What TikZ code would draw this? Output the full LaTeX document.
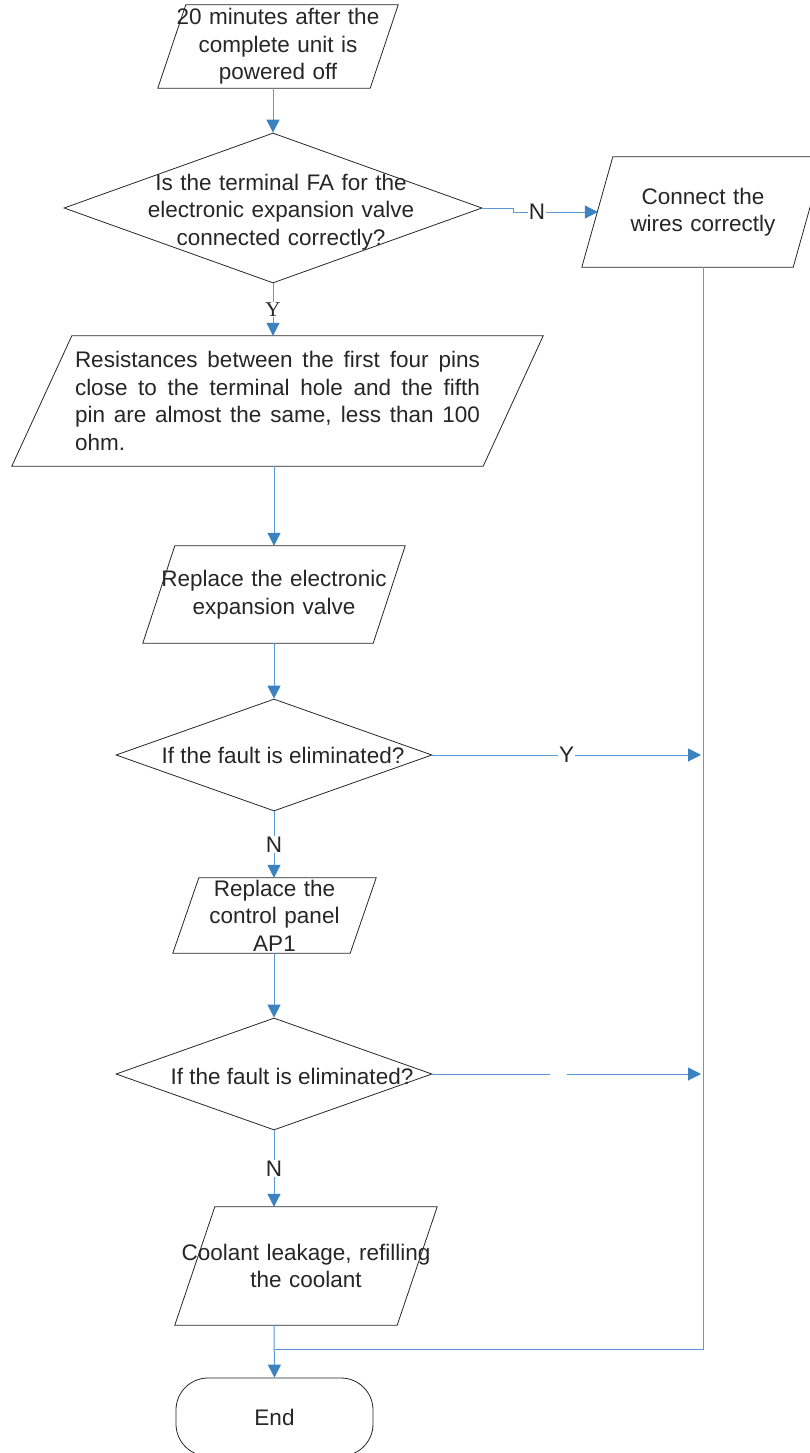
\documentclass[tikz,border=0pt]{standalone}
\usepackage{fontspec}
\setmainfont{Liberation Sans}
\newfontfamily\serifletter{Liberation Serif}
\usetikzlibrary{shapes.geometric,arrows.meta}
\definecolor{linkblue}{RGB}{91,155,213}
\definecolor{tipblue}{RGB}{58,130,192}
\definecolor{inkgray}{RGB}{38,38,38}

\begin{document}
\begin{tikzpicture}[x=1pt, y=-1pt,
    every node/.style={font=\fontsize{22.5}{27.5}\selectfont, text=inkgray, align=center},
    box/.style={inner sep=0pt},
    decision/.style={diamond, draw=inkgray, line width=0.8pt, inner sep=0pt,
        minimum width=316, minimum height=112},
    outline/.style={draw=inkgray, line width=0.8pt},
    link/.style={draw=linkblue, line width=1pt},
    flow/.style={link, -{Triangle[length=13pt, width=13pt, color=tipblue]}},
    lbl/.style={fill=white, inner sep=1pt}
]
\useasboundingbox (0,0) rectangle (810,1453);

% shapes of the main column
\node[box, minimum width=240, minimum height=83, text width=215] (start) at (278,46.5)
    {20 minutes after the\\complete unit is\\powered off};
\node[decision, minimum width=418, minimum height=150] (q1) at (273,208) {};
\node[box, text width=290] (q1txt) at (281,212)
    {Is the terminal FA for the\\electronic expansion valve\\connected correctly?};
\node[box, minimum width=242, minimum height=110, text width=160] (wires) at (703,212)
    {Connect the\\wires correctly};
\node[box, minimum width=531, minimum height=130, text width=405, align=justify] (p2) at (277.5,401)
    {Resistances between the first four pins\linebreak close to the terminal hole and the fifth\linebreak pin are almost the same, less than 100\linebreak ohm.};
\node[box, minimum width=262, minimum height=97, text width=240] (p3) at (274,594.5)
    {Replace the electronic\\expansion valve};
\node[decision] (q2) at (274,755) {};
\node[box] (q2txt) at (283,755) {If the fault is eliminated?};
\node[box, minimum width=203, minimum height=75, text width=150] (p4) at (274.5,915.5)
    {Replace the\\control panel\\AP1};
\node[decision] (q3) at (274,1074) {};
\node[box] (q3txt) at (292,1076) {If the fault is eliminated?};
\node[box, minimum width=262, minimum height=118, text width=255] (p5) at (306,1266)
    {Coolant leakage, refilling\\the coolant};
\node[outline, rounded corners=32, minimum width=197, minimum height=78] (stop) at (274.5,1417) {End};

% parallelograms drawn over the boxes
\foreach \n/\k in {start/28, wires/31, p2/60, p3/32, p4/26, p5/40}
    \draw[outline] (\n.south west) -- ([xshift=\k]\n.north west) -- (\n.north east)
        -- ([xshift=-\k]\n.south east) -- cycle;

\coordinate (join) at (q3.south |- 0,1349);

% connectors
\draw[flow] (q1.north |- start.south) -- (q1.north);
\draw[flow] (q1.south) -- (q1.south |- p2.north)
    node[lbl, midway, font=\serifletter\fontsize{21}{24}\selectfont] {Y};
\draw[flow] (q1.east) -- ++(31,0) |- ([xshift=16]wires.west) node[lbl, pos=0.64] {N};
\draw[flow] (p3.north |- p2.south) -- (p3.north);
\draw[flow] (p3.south) -- (q2.north);
\draw[flow] (q2.east) -- ([xshift=-2]wires.south |- q2.east) node[lbl, midway] {Y};
\draw[flow] (q2.south) -- (q2.south |- p4.north) node[lbl, midway] {N};
\draw[flow] (q2.south |- p4.south) -- (q3.north);
\draw[flow] (q3.east) -- ([xshift=-2]wires.south |- q3.east)
    node[lbl, pos=0.47, minimum width=17, minimum height=10] {};
\draw[flow] (q3.south) -- (q3.south |- p5.north) node[lbl, midway] {N};
\draw[flow] (q3.south |- p5.south) -- (stop.north);
\draw[link] (wires.south) |- (join);
\end{tikzpicture}
\end{document}
